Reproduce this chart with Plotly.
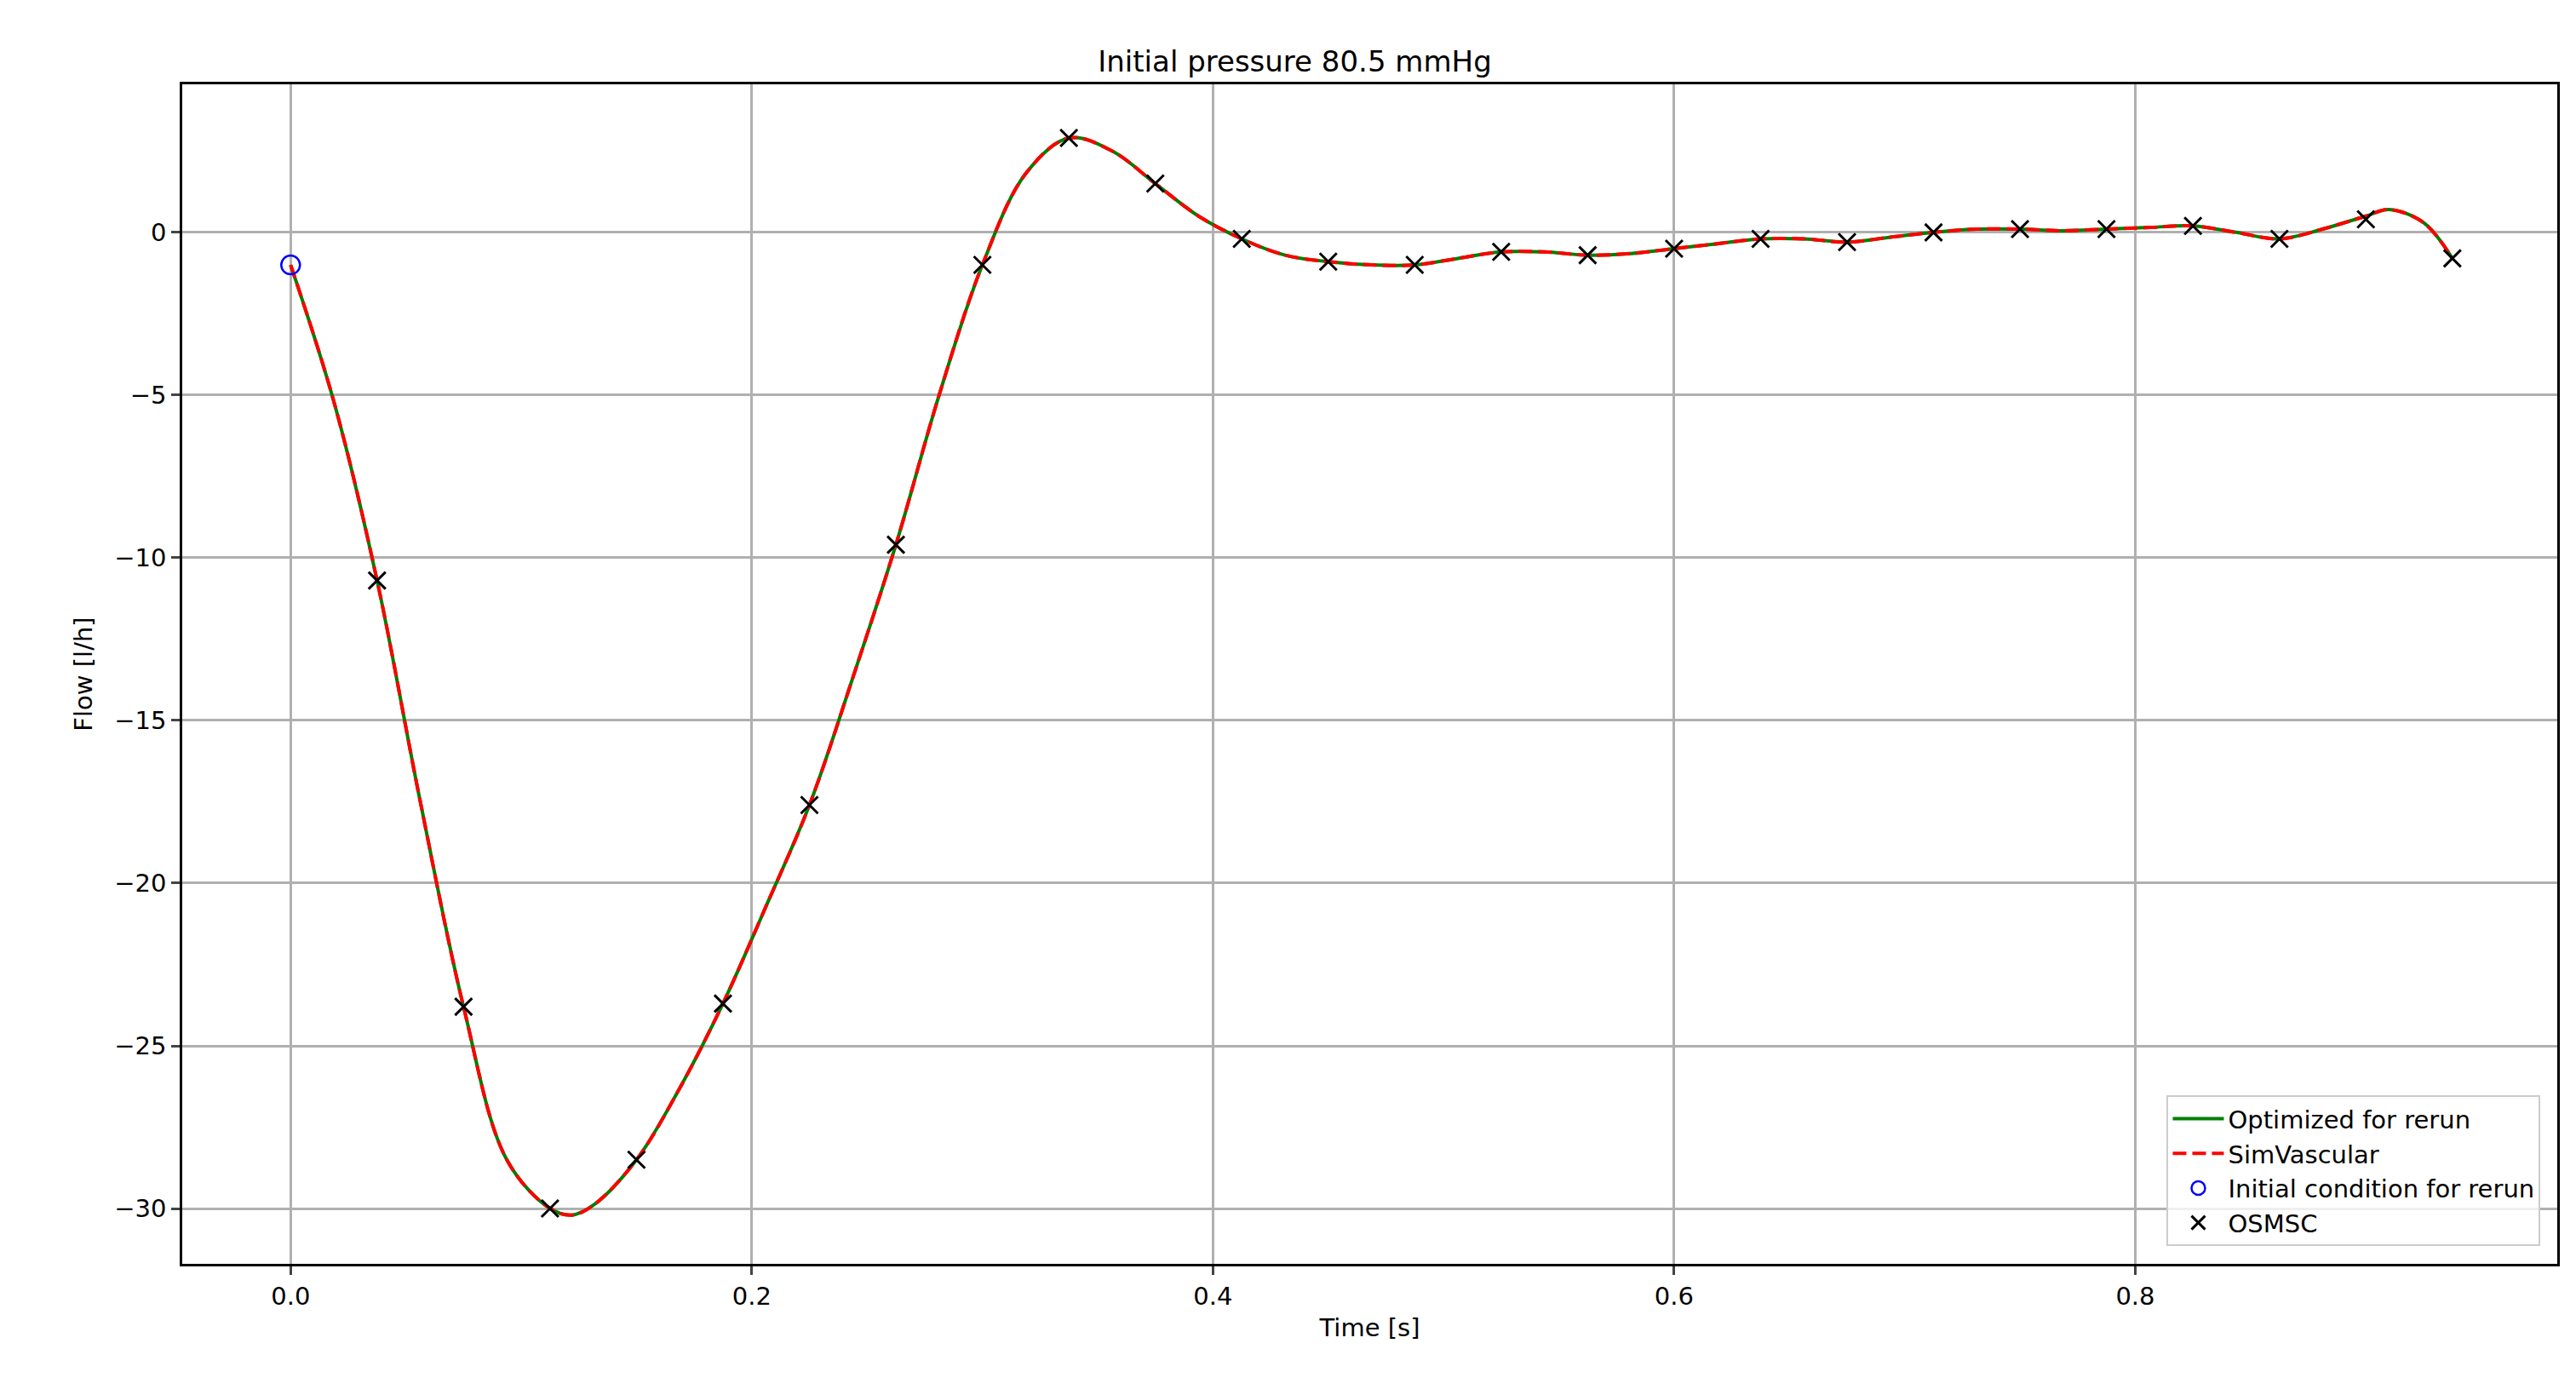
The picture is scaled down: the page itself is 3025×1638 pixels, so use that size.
import plotly.graph_objects as go

# OSMSC samples
t_osmsc = [0.0375, 0.075, 0.1125, 0.15, 0.1875, 0.225, 0.2625, 0.3, 0.3375, 0.375,
           0.4125, 0.45, 0.4875, 0.525, 0.5625, 0.6, 0.6375, 0.675, 0.7125, 0.75,
           0.7875, 0.825, 0.8625, 0.9, 0.9375]
q_osmsc = [-10.7, -23.8, -30.0, -28.5, -23.7, -17.6, -9.6, -1.0, 2.9, 1.5,
           -0.2, -0.9, -1.0, -0.6, -0.7, -0.5, -0.2, -0.3, 0.0, 0.1,
           0.1, 0.2, -0.2, 0.4, -0.8]

# simulated curve
t_sim = [0.0, 0.01875, 0.0375, 0.05625, 0.075, 0.09375, 0.1125, 0.122, 0.13125, 0.15,
         0.16875, 0.1875, 0.20625, 0.225, 0.24375, 0.2625, 0.28125, 0.3, 0.31875, 0.3375,
         0.35625, 0.375, 0.39375, 0.4125, 0.43125, 0.45, 0.46875, 0.4875, 0.50625, 0.525,
         0.54375, 0.5625, 0.58125, 0.6, 0.61875, 0.6375, 0.65625, 0.675, 0.69375, 0.7125,
         0.73125, 0.75, 0.76875, 0.7875, 0.80625, 0.825, 0.84375, 0.8625, 0.88125, 0.9,
         0.91, 0.925, 0.9375]
q_sim = [-1.0, -5.2, -10.7, -17.5, -23.8, -28.5, -30.0, -30.2, -29.9, -28.5,
         -26.3, -23.7, -20.7, -17.6, -13.7, -9.6, -5.0, -1.0, 1.8, 2.9,
         2.5, 1.5, 0.5, -0.2, -0.7, -0.9, -1.0, -1.0, -0.8, -0.6,
         -0.6, -0.7, -0.65, -0.5, -0.35, -0.2, -0.2, -0.3, -0.15, 0.0,
         0.1, 0.1, 0.05, 0.1, 0.15, 0.2, 0.0, -0.2, 0.1, 0.5,
         0.7, 0.3, -0.8]

t_init = [0.0]
q_init = [-1.0]

fig = go.Figure()
fig.add_trace(go.Scatter(x=t_sim, y=q_sim, mode="lines", name="Optimized for rerun",
                         line=dict(color="green", width=4, shape="spline")))
fig.add_trace(go.Scatter(x=t_sim, y=q_sim, mode="lines", name="SimVascular",
                         line=dict(color="red", width=4, dash="16px,7px", shape="spline")))
fig.add_trace(go.Scatter(x=t_init, y=q_init, mode="markers", name="Initial condition for rerun",
                         marker=dict(symbol="circle-open", color="blue", size=22, line=dict(width=2.5))))
fig.add_trace(go.Scatter(x=t_osmsc, y=q_osmsc, mode="markers", name="OSMSC",
                         marker=dict(symbol="x-thin", size=20, line=dict(width=3, color="black"), color="black")))

axis = dict(showline=True, linecolor="black", linewidth=2.5, mirror=True, showgrid=True,
            gridcolor="#b0b0b0", gridwidth=2.5, zeroline=False, ticks="outside", ticklen=10,
            tickwidth=2.5, tickfont=dict(size=29))
fig.update_layout(
    width=3025, height=1638, template="plotly_white",
    font=dict(family="DejaVu Sans", color="black"),
    title=dict(text="Initial pressure 80.5 mmHg", x=0.5, xanchor="center", y=0.968, font=dict(size=34)),
    margin=dict(l=206, r=30, t=91, b=162),
    xaxis=dict(axis, range=[-0.047, 0.983], tickvals=[0, 0.2, 0.4, 0.6, 0.8],
               ticktext=["0.0", "0.2", "0.4", "0.6", "0.8"],
               title=dict(text="Time [s]", font=dict(size=29), standoff=12)),
    yaxis=dict(axis, range=[-31.7, 4.55], tickvals=[0, -5, -10, -15, -20, -25, -30],
               ticktext=["0", "−5", "−10", "−15", "−20", "−25", "−30"],
               title=dict(text="Flow [l/h]", font=dict(size=29), standoff=18)),
    legend=dict(x=0.993, y=0.015, xanchor="right", yanchor="bottom", bgcolor="rgba(255,255,255,0.8)",
                bordercolor="#cccccc", borderwidth=2, font=dict(size=29), itemwidth=60),
    showlegend=True,
)
fig.write_html("out.html")
